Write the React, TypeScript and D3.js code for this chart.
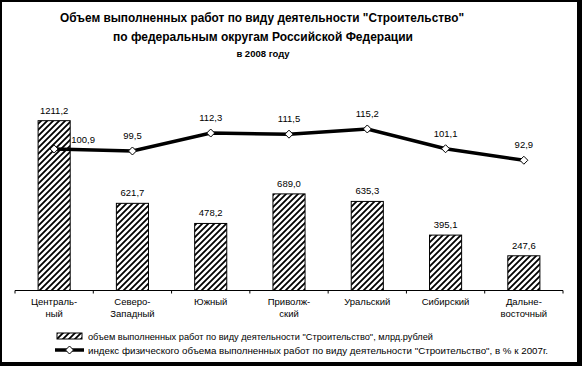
import React from 'react';
import * as d3 from 'd3';

const categories = [
  'Централь-\nный',
  'Северо-\nЗападный',
  'Южный',
  'Приволж-\nский',
  'Уральский',
  'Сибирский',
  'Дальне-\nвосточный',
];
const volume = [1211.2, 621.7, 478.2, 689.0, 635.3, 395.1, 247.6];
const growthIndex = [100.9, 99.5, 112.3, 111.5, 115.2, 101.1, 92.9];

const titleLines = [
  'Объем выполненных работ по виду деятельности "Строительство"',
  'по федеральным округам Российской Федерации',
  'в 2008 году',
];
const legendLabels = [
  'объем выполненных работ по виду деятельности "Строительство", млрд.рублей',
  'индекс физического объема выполненных работ по виду деятельности "Строительство", в % к 2007г.',
];

const W = 582;
const H = 366;
const FONT = '"Liberation Sans", Arial, sans-serif';

const fmt = (v: number) => d3.format('.1f')(v).replace('.', ',');

export default function App() {
  const x = d3
    .scaleBand<string>()
    .domain(categories)
    .range([15, 563])
    .paddingInner(0.59)
    .paddingOuter(0.295);
  const y = d3.scaleLinear().domain([0, 1400]).range([290.5, 94.2]);
  const y2 = d3.scaleLinear().domain([0, 140]).range([290.5, 94.2]);

  const step = x.step();
  const cx = (c: string) => (x(c) as number) + x.bandwidth() / 2;

  const line = d3
    .line<number>()
    .x((_, i) => cx(categories[i]))
    .y((d) => y2(d));

  const diamond = 'M0,-4L4,0L0,4L-4,0Z';
  const ticks = categories.map((c) => (x(c) as number) - (step * 0.59) / 2);
  ticks.push(563);

  return (
    <svg
      width={W}
      height={H}
      style={{ position: 'absolute', left: 0, top: 0 }}
      fontFamily={FONT}
    >
      <defs>
        <pattern id="hatch" patternUnits="userSpaceOnUse" width="6" height="6">
          <rect width="6" height="6" fill="#fff" />
          <path
            d="M-1.5,1.5L1.5,-1.5M0,6L6,0M4.5,7.5L7.5,4.5"
            stroke="#000"
            strokeWidth="1.8"
          />
        </pattern>
      </defs>

      {/* frame with shadow on right and bottom */}
      <rect x={0} y={0} width={W} height={H} fill="#000" />
      <rect x={2} y={2} width={575} height={360} fill="#fff" />

      {/* title */}
      <text x={262} y={22} textAnchor="middle" fontSize="12.5" fontWeight="bold" textLength={404} lengthAdjust="spacingAndGlyphs">
        {titleLines[0]}
      </text>
      <text x={263} y={41} textAnchor="middle" fontSize="12.5" fontWeight="bold" textLength={300} lengthAdjust="spacingAndGlyphs">
        {titleLines[1]}
      </text>
      <text x={263} y={57} textAnchor="middle" fontSize="9.5" fontWeight="bold">
        {titleLines[2]}
      </text>

      {/* bars */}
      {volume.map((v, i) => (
        <g key={'b' + i}>
          <rect
            x={x(categories[i])}
            y={y(v)}
            width={x.bandwidth()}
            height={y(0) - y(v)}
            fill="url(#hatch)"
            stroke="#000"
            strokeWidth="1"
          />
          <text x={cx(categories[i])} y={y(v) - 7} textAnchor="middle" fontSize="9.5">
            {fmt(v)}
          </text>
        </g>
      ))}

      {/* axis */}
      <line x1={15} x2={563} y1={290.5} y2={290.5} stroke="#000" strokeWidth="1" />
      {ticks.map((t, i) => (
        <line key={'t' + i} x1={t} x2={t} y1={290.5} y2={293.5} stroke="#000" strokeWidth="1" />
      ))}
      {categories.map((c, i) => (
        <text key={'c' + i} x={cx(c)} y={305} textAnchor="middle" fontSize="9.5">
          {c.split('\n').map((part, j) => (
            <tspan key={j} x={cx(c)} dy={j === 0 ? 0 : 11.5}>
              {part}
            </tspan>
          ))}
        </text>
      ))}

      {/* index line */}
      <path d={line(growthIndex) || ''} fill="none" stroke="#000" strokeWidth="3.5" />
      {growthIndex.map((v, i) => {
        const px = cx(categories[i]);
        const py = y2(v);
        const shift = i === 0 ? [29, 6] : [0, 0];
        return (
          <g key={'m' + i}>
            <path d={diamond} transform={`translate(${px},${py})`} fill="#fff" stroke="#000" strokeWidth="1" />
            <text x={px + shift[0]} y={py - 12 + shift[1]} textAnchor="middle" fontSize="9.5">
              {fmt(v)}
            </text>
          </g>
        );
      })}

      {/* legend */}
      <rect x={57} y={333} width={25} height={6} fill="url(#hatch)" stroke="#000" strokeWidth="1" />
      <text x={88} y={340} fontSize="9.5" textLength={345} lengthAdjust="spacingAndGlyphs">
        {legendLabels[0]}
      </text>
      <line x1={55} x2={84} y1={350} y2={350} stroke="#000" strokeWidth="3.5" />
      <path d={diamond} transform="translate(69.5,350)" fill="#fff" stroke="#000" strokeWidth="1" />
      <text x={88} y={353.5} fontSize="9.5" textLength={460} lengthAdjust="spacingAndGlyphs">
        {legendLabels[1]}
      </text>
    </svg>
  );
}
